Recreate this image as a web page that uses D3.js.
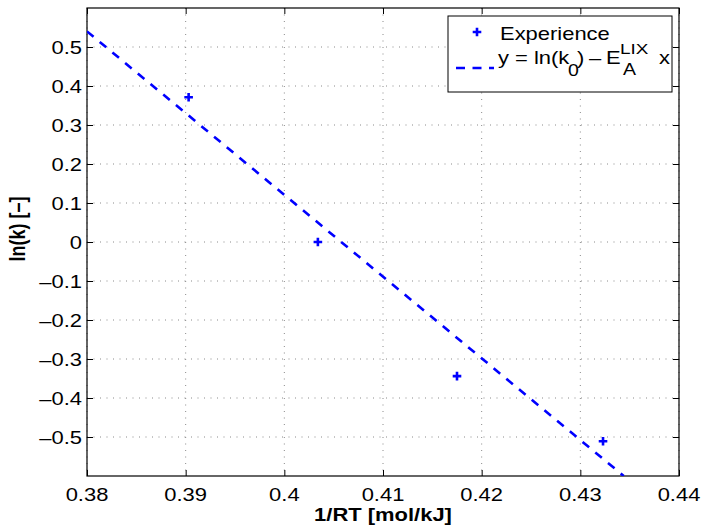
<!DOCTYPE html>
<html>
<head>
<meta charset="utf-8">
<script src="https://cdn.jsdelivr.net/npm/d3@7"></script>
<style>
  body { margin: 0; background: #fff; }
  svg { display: block; font-family: "Liberation Sans", Arial, Helvetica, sans-serif; }
</style>
</head>
<body>
<svg id="chart"></svg>
<script>
// tick values
const xTicks = [0.38, 0.39, 0.40, 0.41, 0.42, 0.43, 0.44];
const yTicks = [-0.5, -0.4, -0.3, -0.2, -0.1, 0, 0.1, 0.2, 0.3, 0.4, 0.5];

// measured points
const expX = [0.3903, 0.4034, 0.4175, 0.4323];
const expY = [0.371, 0.0, -0.344, -0.511];

// fitted line ln(k) = ln(k0) - Ea x
const fitX = [0.38, 0.4344];
const fitY = [0.54, -0.60];

const W = 704, H = 530;
const mLeft = 87, mRight = 679, mTop = 8, mBottom = 476;
const sx = 1.22; // horizontal stretch of the text in the original figure

const svg = d3.select('#chart').attr('width', W).attr('height', H);
svg.append('rect').attr('width', W).attr('height', H).attr('fill', '#fff');

const x = d3.scaleLinear().domain([0.38, 0.44]).range([mLeft, mRight]);
const y = d3.scaleLinear().domain([-0.6, 0.6]).range([mBottom, mTop]);

svg.append('defs').append('clipPath').attr('id', 'clip')
  .append('rect').attr('x', mLeft).attr('y', mTop)
  .attr('width', mRight - mLeft).attr('height', mBottom - mTop);

// grid
const grid = svg.append('g');
grid.selectAll('.vg').data(xTicks).enter().append('line')
  .attr('x1', d => x(d)).attr('x2', d => x(d))
  .attr('y1', mTop).attr('y2', mBottom);
grid.selectAll('.hg').data(yTicks).enter().append('line')
  .attr('x1', mLeft).attr('x2', mRight)
  .attr('y1', d => y(d)).attr('y2', d => y(d));
grid.selectAll('line')
  .attr('stroke', '#8a8a8a').attr('stroke-width', 1)
  .attr('stroke-dasharray', '1,5.5');

// ticks on all four sides (inward)
function styleAxis(g) {
  g.select('.domain').remove();
  g.selectAll('.tick line').attr('stroke', '#000').attr('stroke-width', 1);
}
svg.append('g').attr('transform', `translate(0,${mBottom})`)
  .call(d3.axisBottom(x).tickValues(xTicks).tickSize(-6).tickFormat('')).call(styleAxis);
svg.append('g').attr('transform', `translate(0,${mTop})`)
  .call(d3.axisTop(x).tickValues(xTicks).tickSize(-6).tickFormat('')).call(styleAxis);
svg.append('g').attr('transform', `translate(${mLeft},0)`)
  .call(d3.axisLeft(y).tickValues(yTicks).tickSize(-6).tickFormat('')).call(styleAxis);
svg.append('g').attr('transform', `translate(${mRight},0)`)
  .call(d3.axisRight(y).tickValues(yTicks).tickSize(-6).tickFormat('')).call(styleAxis);

// box
svg.append('rect').attr('x', mLeft).attr('y', mTop)
  .attr('width', mRight - mLeft).attr('height', mBottom - mTop)
  .attr('fill', 'none').attr('stroke', '#000').attr('stroke-width', 1.2);

// tick labels
const fmt = d3.format('.2~f');
svg.selectAll('.xl').data(xTicks).enter().append('text')
  .attr('transform', d => `translate(${x(d)},501) scale(${sx},1)`)
  .attr('text-anchor', 'middle').attr('font-size', 18)
  .text(d => fmt(d));
svg.selectAll('.yl').data(yTicks).enter().append('text')
  .attr('transform', d => `translate(${mLeft - 5},${y(d) + 6.5}) scale(${sx},1)`)
  .attr('text-anchor', 'end').attr('font-size', 18)
  .text(d => d === 0 ? '0' : fmt(d).replace('−', '–'));

// axis labels
svg.append('text')
  .attr('transform', `translate(383,521) scale(${sx},1)`)
  .attr('text-anchor', 'middle').attr('font-size', 18).attr('font-weight', 'bold')
  .text('1/RT [mol/kJ]');
svg.append('text')
  .attr('transform', `translate(25,229) scale(${sx},1) rotate(-90)`)
  .attr('text-anchor', 'middle').attr('font-size', 18).attr('font-weight', 'bold')
  .text('ln(k) [–]');

// fit line
const line = d3.line().x(d => x(d[0])).y(d => y(d[1]));
svg.append('path')
  .datum(d3.zip(fitX, fitY))
  .attr('clip-path', 'url(#clip)')
  .attr('d', line)
  .attr('fill', 'none').attr('stroke', '#0000ff')
  .attr('stroke-width', 2.6).attr('stroke-dasharray', '8.5,8');

// experimental points
const plus = 'M-4.3,0H4.3M0,-4.3V4.3';
svg.selectAll('.pt').data(d3.zip(expX, expY)).enter().append('path')
  .attr('transform', d => `translate(${x(d[0])},${y(d[1])})`)
  .attr('d', plus)
  .attr('fill', 'none').attr('stroke', '#0000ff').attr('stroke-width', 2.6);

// legend
const lg = svg.append('g');
lg.append('rect').attr('x', 448).attr('y', 16).attr('width', 224).attr('height', 76)
  .attr('fill', '#fff').attr('stroke', '#000').attr('stroke-width', 1);
lg.append('path').attr('transform', 'translate(477,32)').attr('d', plus)
  .attr('fill', 'none').attr('stroke', '#0000ff').attr('stroke-width', 2.6);
lg.append('line').attr('x1', 456).attr('x2', 494).attr('y1', 68).attr('y2', 68)
  .attr('stroke', '#0000ff').attr('stroke-width', 2.6).attr('stroke-dasharray', '9,7.5');

function legText(tx, ty, size, s) {
  lg.append('text')
    .attr('transform', `translate(${tx},${ty}) scale(${sx},1)`)
    .attr('font-size', size).text(s);
}
legText(500, 40, 18, 'Experience');
legText(498, 64, 18, 'y = ln(k');
legText(568, 76, 16, '0');
legText(577, 64, 18, ')');
legText(589, 64, 18, '–');
legText(606, 64, 18, 'E');
legText(620, 54, 15.5, 'LIX');
legText(623, 75, 16, 'A');
legText(659, 64, 18, 'x');
</script>
</body>
</html>
